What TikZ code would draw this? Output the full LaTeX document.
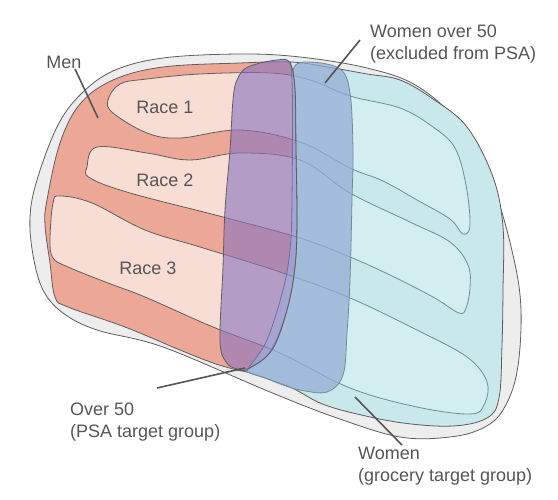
\documentclass[tikz,border=0pt]{standalone}
\usepackage{fontspec}
\setmainfont{Liberation Sans}

\definecolor{blobgray}{HTML}{EDEDED}
\definecolor{edgegray}{HTML}{5E5E5E}
\definecolor{textgray}{HTML}{555555}
\definecolor{mensalmon}{HTML}{EDA797}
\definecolor{racepink}{HTML}{F7DDD4}
\definecolor{womencyan}{HTML}{C9E8EC}
\definecolor{racecyan}{HTML}{D3EEF0}
\definecolor{cyanedge}{HTML}{6F8D95}
\definecolor{overpurple}{RGB}{135,115,191}
\definecolor{overblue}{RGB}{146,169,213}

\tikzset{
  outline/.style={draw=edgegray, line width=0.8pt},
  softline/.style={draw=cyanedge, line width=0.8pt},
  leader/.style={draw=textgray, line width=1.6pt},
  lbl/.style={text=textgray, inner sep=0pt, font=\fontsize{18}{21.5}\selectfont},
}

% shapes, in pixel units (y runs down)
\def\outerblob{plot[smooth cycle,tension=.6] coordinates {(30,217) (37,180) (57,127) (80,95) (113,71) (163,58) (240,54) (300,57) (367,68) (417,86) (460,125) (493,187) (513,255) (521,310) (517,372) (503,410) (483,428) (450,437) (400,437) (337,418) (270,392) (163,347) (97,330) (63,313) (43,290) (33,255)}}
\def\innerblob{plot[smooth cycle,tension=.6] coordinates {(47,200) (60,143) (80,104) (113,80) (163,67) (240,63) (292,62) (333,68) (367,74) (400,80) (433,99) (467,127) (493,177) (503,227) (503,290) (502,345) (499,398) (487,418) (453,426) (403,423) (353,413) (320,403) (290,387) (250,373) (237,370) (213,363) (180,350) (125,327) (68,307) (55,297) (50,263) (45,225)}}
\def\boundary{plot[smooth,tension=.6] coordinates {(286,40) (292,80) (292,200) (290,250) (283,290) (267,340) (250,366) (238,385)}}
\def\womenside{\boundary -- (238,470) -- (560,470) -- (560,40) -- cycle}
\def\menside{\boundary -- (238,470) -- (0,470) -- (0,40) -- cycle}
\def\raceone{plot[smooth cycle,tension=.6] coordinates {(108,100) (120,84) (147,79) (200,74) (270,73) (310,80) (350,96) (400,108) (433,127) (455,148) (466,185) (470,225) (463,234) (450,219) (417,200) (383,181) (350,168) (300,142) (240,130) (180,138) (147,133) (113,113)}}
\def\racetwo{plot[smooth cycle,tension=.6] coordinates {(87,167) (97,147) (147,153) (190,160) (240,153) (300,160) (350,193) (410,222) (450,242) (468,265) (470,288) (466,308) (459,313) (433,297) (390,275) (350,257) (300,238) (223,217) (130,193) (90,178)}}
\def\racethree{plot[smooth cycle,tension=.6] coordinates {(53,203) (60,196) (92,203) (145,230) (200,247) (280,272) (350,298) (417,330) (467,357) (487,382) (484,405) (470,414) (417,407) (350,388) (280,353) (213,327) (145,297) (108,283) (68,267) (53,258) (50,240)}}
\def\blueband{plot[smooth cycle,tension=.6] coordinates {(294,67) (310,62) (340,69) (350,93) (353,150) (352,200) (350,280) (347,333) (343,375) (327,392) (300,390) (283,385) (265,378) (250,373) (248,369) (270,352) (287,310) (295,267) (297,220) (296,150) (295,90)}}
\def\purpleband{plot[smooth cycle,tension=.6] coordinates {(237,80) (248,67) (277,60) (290,63) (295,90) (296,150) (297,220) (295,267) (287,310) (272,350) (248,369) (237,369) (226,362) (220,340) (223,267) (225,210) (230,150) (233,100)}}

\begin{document}
\begin{tikzpicture}[x=1pt,y=-1pt]
    \useasboundingbox (0,0) rectangle (558,500);

    \filldraw[fill=blobgray, outline] \outerblob; % whole population
    \fill[mensalmon] \innerblob; % men
    \begin{scope}
        \clip \innerblob;
        \fill[womencyan] \womenside; % women
    \end{scope}

    % race stripes across both groups
    \foreach \race in {\raceone,\racetwo,\racethree}{
        \fill[racepink] \race;
        \begin{scope}
            \clip \womenside;
            \fill[racecyan] \race;
            \draw[softline] \race;
        \end{scope}
        \begin{scope}
            \clip \menside;
            \draw[outline] \race;
        \end{scope}
    }

    \begin{scope}
        \clip \innerblob;
        \draw[outline] \boundary; % men / women border
    \end{scope}
    \draw[outline] \innerblob;

    % age bands
    \filldraw[fill=overblue, fill opacity=.7, softline] \blueband; % women over 50
    \filldraw[fill=overpurple, fill opacity=.6, outline] \purpleband; % over 50

    % labels
    \node[lbl] (men) at (64,62) {Men};
    \node[lbl] (race1) at (165,107) {Race 1};
    \node[lbl] (race2) at (165,180) {Race 2};
    \node[lbl] (race3) at (148,268) {Race 3};
    \node[lbl, anchor=north west, align=left] (womenover) at (370,25) {Women over 50\\(excluded from PSA)};
    \node[lbl, anchor=north west, align=left] (overfifty) at (70,403) {Over 50\\(PSA target group)};
    \node[lbl, anchor=north west, align=left] (women) at (358,447) {Women\\(grocery target group)};

    % leader lines
    \coordinate (menfrom) at (75,69);
    \coordinate (mento) at (98,118);
    \coordinate (womenoverfrom) at (360,40);
    \coordinate (womenoverto) at (325,83);
    \coordinate (overfiftyfrom) at (157,388);
    \coordinate (overfiftyto) at (245,368);
    \coordinate (womenfrom) at (402,445);
    \coordinate (womento) at (355,397);
    \draw[leader] (menfrom) -- (mento);
    \draw[leader] (womenoverfrom) -- (womenoverto);
    \draw[leader] (overfiftyfrom) -- (overfiftyto);
    \draw[leader] (womenfrom) -- (womento);
\end{tikzpicture}
\end{document}
